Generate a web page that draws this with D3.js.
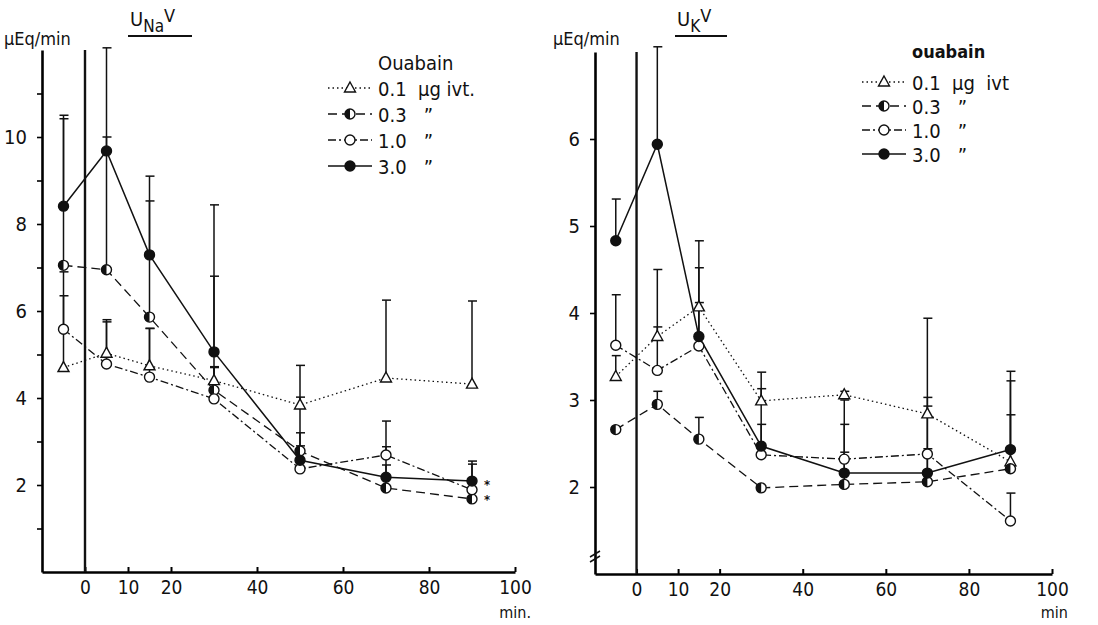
<!DOCTYPE html>
<html>
<head>
<meta charset="utf-8">
<script src="https://cdn.jsdelivr.net/npm/d3@7"></script>
<style>
  body { margin: 0; background: #fff; }
  text { font-family: "DejaVu Sans Condensed", "Liberation Sans Narrow", sans-serif; fill: #111; }
</style>
</head>
<body>
<script>
// sampling times (min) and doses
const times = [-5, 5, 15, 30, 50, 70, 90];
const doses = ["0.1", "0.3", "1.0", "3.0"];
const doseLabels = ["0.1  µg ivt.", "0.3   \u201D", "1.0   \u201D", "3.0   \u201D"];
const doseLabelsK = ["0.1  µg  ivt", "0.3   \u201D", "1.0   \u201D", "3.0   \u201D"];
const xTicks = [0, 10, 20, 40, 60, 80, 100];

// UNaV means
const naDose01 = [4.70, 5.03, 4.74, 4.40, 3.84, 4.46, 4.32];
const naDose03 = [7.05, 6.95, 5.86, 4.18, 2.78, 1.93, 1.68];
const naDose10 = [5.58, 4.78, 4.48, 3.98, 2.37, 2.69, 1.89];
const naDose30 = [8.41, 9.68, 7.29, 5.06, 2.57, 2.18, 2.09];
// UNaV upper error ends
const naErr01 = [6.35, 5.80, 5.60, 4.70, 4.75, 6.25, 6.23];
const naErr03 = [10.42, 10.0, 8.53, 6.80, 4.02, 2.46, null];
const naErr10 = [6.90, 5.75, 5.60, 4.72, 2.90, 3.47, 2.48];
const naErr30 = [10.5, 12.05, 9.10, 8.44, 3.20, 2.88, 2.55];
const naYTicks = [1, 2, 3, 4, 5, 6, 7, 8, 9, 10, 11];

// UKV means
const kDose01 = [3.27, 3.73, 4.07, 2.99, 3.06, 2.84, 2.29];
const kDose03 = [2.66, 2.95, 2.55, 1.99, 2.03, 2.06, 2.21];
const kDose10 = [3.63, 3.34, 3.62, 2.37, 2.32, 2.38, 1.61];
const kDose30 = [4.83, 5.94, 3.73, 2.47, 2.16, 2.16, 2.43];
// UKV upper error ends
const kErr01 = [3.51, 3.84, 4.83, 3.32, 3.10, 2.93, 3.22];
const kErr03 = [null, 3.10, 2.80, null, 2.40, 2.44, 2.83];
const kErr10 = [4.21, 4.50, 4.12, 2.72, 2.72, 3.94, 1.93];
const kErr30 = [5.31, 7.06, 4.52, 3.13, 3.00, 3.03, 3.33];
const kYTicks = [2, 3, 4, 5, 6];

const styles = {
  "0.1": { dash: "1.5,3", marker: "triangle" },
  "0.3": { dash: "9,5", marker: "half" },
  "1.0": { dash: "8,3,2,3", marker: "open" },
  "3.0": { dash: null, marker: "filled" }
};

const svg = d3.select("body").append("svg")
  .attr("width", 1098)
  .attr("height", 625);

function drawMarker(g, type, cx, cy) {
  const r = 5;
  if (type === "triangle") {
    g.append("path")
      .attr("d", `M${cx},${cy - 6} L${cx + 5.5},${cy + 4} L${cx - 5.5},${cy + 4} Z`)
      .attr("fill", "#fff").attr("stroke", "#111").attr("stroke-width", 1.4);
  } else {
    g.append("circle").attr("cx", cx).attr("cy", cy).attr("r", r)
      .attr("fill", type === "filled" ? "#111" : "#fff")
      .attr("stroke", "#111").attr("stroke-width", 1.4);
    if (type === "half") {
      g.append("path")
        .attr("d", `M${cx},${cy - r} A${r},${r} 0 0,0 ${cx},${cy + r} Z`)
        .attr("fill", "#111");
    }
  }
}

function drawPanel(p) {
  const x = d3.scaleLinear().domain([-10, 100]).range(p.xRange);
  const y = d3.scaleLinear().domain(p.yDomain).range(p.yRange);
  const g = svg.append("g");

  // x axis
  const xAxis = g.append("g")
    .attr("transform", `translate(0,${p.yRange[0]})`)
    .call(d3.axisBottom(x).tickValues(xTicks).tickSize(-5).tickSizeOuter(0).tickPadding(9));
  xAxis.select(".domain").attr("stroke-width", 2.4);
  xAxis.selectAll(".tick line").attr("stroke-width", 2);
  xAxis.selectAll("text").attr("font-size", 19).attr("font-family", null);

  // y axis
  const yAxis = g.append("g")
    .attr("transform", `translate(${p.xRange[0]},0)`)
    .call(d3.axisLeft(y).tickValues(p.yTicks).tickSize(5).tickSizeOuter(0).tickPadding(10)
      .tickFormat(d => p.labelled(d) ? d : ""));
  yAxis.select(".domain").attr("stroke-width", 2.6);
  yAxis.selectAll(".tick line").attr("stroke-width", 1.6);
  yAxis.selectAll("text").attr("font-size", 20).attr("font-family", null);

  // injection line at t = 0
  g.append("line")
    .attr("x1", x(0)).attr("x2", x(0))
    .attr("y1", y(p.yDomain[1])).attr("y2", p.yRange[0])
    .attr("stroke", "#111").attr("stroke-width", 2.4);

  if (p.axisBreak) {
    const by = p.yRange[0] - 17;
    [-3, 2].forEach(o => {
      g.append("line")
        .attr("x1", x(-10) - 5).attr("x2", x(-10) + 5)
        .attr("y1", by + o + 3).attr("y2", by + o - 3)
        .attr("stroke", "#111").attr("stroke-width", 1.5);
    });
  }

  // error bars
  doses.forEach((d, i) => {
    p.err[i].forEach((e, j) => {
      if (e == null) return;
      const cx = x(times[j]);
      g.append("line")
        .attr("x1", cx).attr("x2", cx)
        .attr("y1", y(p.means[i][j])).attr("y2", y(e))
        .attr("stroke", "#111").attr("stroke-width", 1.5);
      g.append("line")
        .attr("x1", cx - 4).attr("x2", cx + 5)
        .attr("y1", y(e)).attr("y2", y(e))
        .attr("stroke", "#111").attr("stroke-width", 1.5);
    });
  });

  // lines
  const line = d3.line().x((v, j) => x(times[j])).y(v => y(v));
  doses.forEach((d, i) => {
    g.append("path")
      .attr("d", line(p.means[i]))
      .attr("fill", "none")
      .attr("stroke", "#111")
      .attr("stroke-width", d === "3.0" ? 1.5 : 1.3)
      .attr("stroke-dasharray", styles[d].dash);
  });

  // markers
  doses.forEach((d, i) => {
    p.means[i].forEach((v, j) => drawMarker(g, styles[d].marker, x(times[j]), y(v)));
  });

  // unit + title
  g.append("text").attr("x", p.unitX).attr("y", 45).attr("font-size", 18).text("µEq/min");
  const t = g.append("text").attr("x", p.titleX).attr("y", 26).attr("font-size", 20);
  t.append("tspan").text("U");
  t.append("tspan").attr("dy", 6).attr("font-size", 17).text(p.ion);
  t.append("tspan").attr("dy", -10).attr("font-size", 18).text("V");
  g.append("line")
    .attr("x1", p.titleX - 2).attr("x2", p.titleX + p.titleW)
    .attr("y1", 36).attr("y2", 36)
    .attr("stroke", "#111").attr("stroke-width", 1.8);

  // min label under the 100 tick
  g.append("text").attr("x", x(100) + 16).attr("y", 618)
    .attr("text-anchor", "end").attr("font-size", 16).text(p.minLabel);

  // legend
  const lg = g.append("g");
  lg.append("text").attr("x", p.legX + 50).attr("y", p.legY)
    .attr("font-size", p.legHeadSize).attr("font-weight", p.legHeadWeight).text(p.legHead);
  doses.forEach((d, i) => {
    const ly = p.legY + p.legRow0 + i * p.legStep;
    lg.append("line")
      .attr("x1", p.legX).attr("x2", p.legX + 44)
      .attr("y1", ly).attr("y2", ly)
      .attr("stroke", "#111").attr("stroke-width", 1.4)
      .attr("stroke-dasharray", styles[d].dash);
    drawMarker(lg, styles[d].marker, p.legX + 22, ly);
    lg.append("text").attr("x", p.legX + 50).attr("y", ly + 8)
      .attr("font-size", 20).attr("xml:space", "preserve").text(p.legLabels[i]);
  });

  return { x, y, g };
}

const na = drawPanel({
  xRange: [42, 515], yDomain: [0, 12], yRange: [572, 50],
  yTicks: naYTicks, labelled: d => d % 2 === 0,
  means: [naDose01, naDose03, naDose10, naDose30],
  err: [naErr01, naErr03, naErr10, naErr30],
  unitX: 4, titleX: 130, titleW: 62, ion: "Na",
  minLabel: "min.",
  legX: 328, legY: 70, legRow0: 18, legStep: 26,
  legHead: "Ouabain", legHeadSize: 20, legHeadWeight: "normal",
  legLabels: doseLabels
});

// significance marks next to the 90 min values (3.0 and 1.0 µg), stacked
[naDose30[6], naDose10[6]].forEach((v, k) => {
  na.g.append("text")
    .attr("x", na.x(90) + 12)
    .attr("y", na.y(naDose30[6]) + 8 + k * 15)
    .attr("font-size", 13).attr("font-weight", "bold").text("*");
});

drawPanel({
  xRange: [595, 1052], yDomain: [1, 7], yRange: [574, 52],
  yTicks: kYTicks, labelled: d => true, axisBreak: true,
  means: [kDose01, kDose03, kDose10, kDose30],
  err: [kErr01, kErr03, kErr10, kErr30],
  unitX: 553, titleX: 677, titleW: 50, ion: "K",
  minLabel: "min",
  legX: 862, legY: 58, legRow0: 24, legStep: 24,
  legHead: "ouabain", legHeadSize: 18, legHeadWeight: "bold",
  legLabels: doseLabelsK
});
</script>
</body>
</html>
